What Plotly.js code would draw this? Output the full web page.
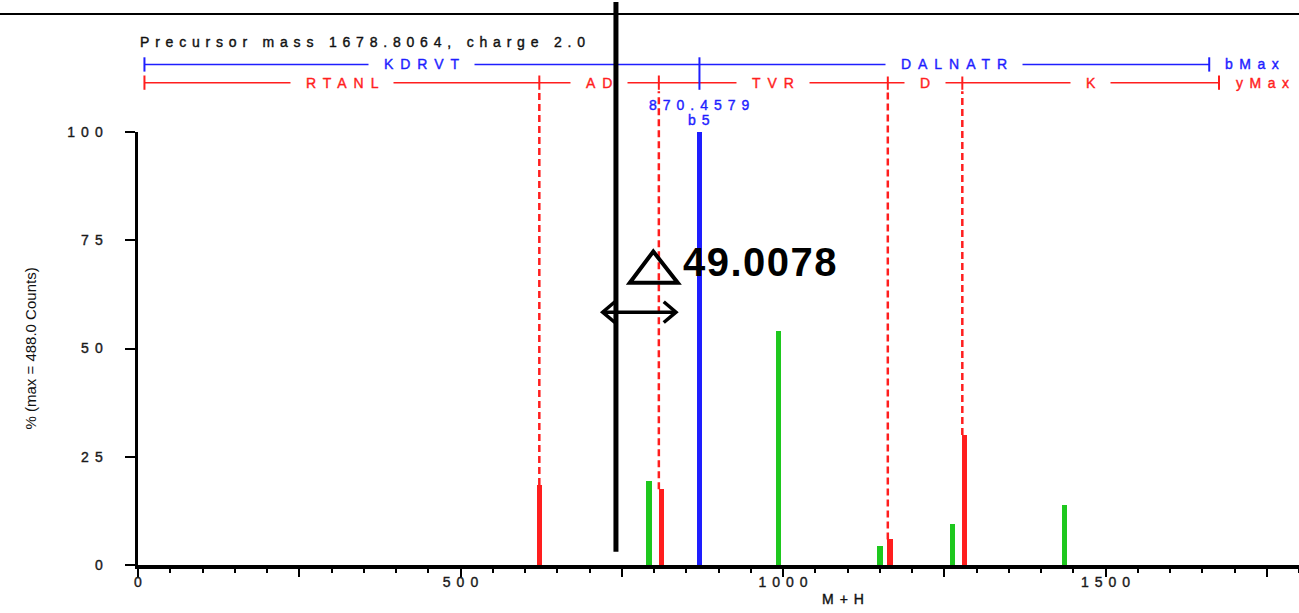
<!DOCTYPE html>
<html>
<head>
<meta charset="utf-8">
<script src="https://cdn.plot.ly/plotly-3.0.1.min.js"></script>
<style>
  html, body { margin: 0; padding: 0; background: #fff; }
  #chart { width: 1299px; height: 613px; }
</style>
</head>
<body>
<div id="chart"></div>
<script>
// Observed fragment peaks: M+H and relative intensity (% of 488.0 counts)
const yIonMz   = [622.2, 811.3, 1165.9, 1281.0];
const yIonPct  = [18.5, 17.5, 5.9, 30.0];
const bIonMz   = [870.4579];
const bIonPct  = [100];
const otherMz  = [792.2, 992.7, 1150.4, 1262.5, 1436.1];
const otherPct = [19.5, 54.1, 4.5, 9.5, 13.9];

// Sequence ladders (boundaries in M+H) and the residues between them
const bLadderMz  = [10, 870.4579, 1660.8];
const bLadderSeq = ['KDRVT', 'DALNATR'];
const yLadderMz  = [10, 622.2, 807.5, 1162.5, 1278.0, 1676.0];
const yLadderSeq = ['RTANL', 'AD', 'TVR', 'D', 'K'];
// ladder boundary index -> matched y-ion peak index
const yMatched = [[1, 0], [2, 1], [3, 2], [4, 3]];

const precursorText = 'Precursor mass 1678.8064, charge 2.0';
const bPeakLabel = '870.4579';
const bPeakIon = 'b5';

// Mass-gap marker and the measured difference
const gapStartMz = 741.0;
const gapArrowMz = [720.4, 834.1];
const gapValue = '49.0078';

// Axis ticks
const xTickVals = [0, 250, 500, 750, 1000, 1250, 1500, 1750];
const xTickText = ['0', '', '500', '', '1000', '', '1500', ''];
const yTickVals = [0, 25, 50, 75, 100];

const BLUE = '#1e1eff', RED = '#ff1e1e', GREEN = '#1ec81e', INK = '#1a1a1a';
const FONT = 'Liberation Sans, Arial, sans-serif';

// wide lettering (no spacing after the final glyph)
function spaced(t, px, color) {
  if (!t) return t;
  const stroke = color ? 'stroke:' + color + ';stroke-width:0.4px;' : '';
  if (t.length < 2) return '<span style="' + stroke + '">' + t + '</span>';
  return '<span style="' + stroke + 'letter-spacing:' + px + 'px">' + t.slice(0, -1) + '</span>' +
         '<span style="' + stroke + '">' + t.slice(-1) + '</span>';
}

const traces = [
  { type: 'bar', x: otherMz, y: otherPct, width: 8, marker: { color: GREEN, line: { width: 0 } }, hoverinfo: 'x+y' },
  { type: 'bar', x: yIonMz, y: yIonPct, width: 8.5, marker: { color: RED, line: { width: 0 } }, hoverinfo: 'x+y' },
  { type: 'bar', x: bIonMz, y: bIonPct, width: 8.5, marker: { color: BLUE, line: { width: 0 } }, hoverinfo: 'x+y' }
];

// rows of the ladders, in paper units above the plot
const bRow = 1.156, yRow = 1.114, tickHalf = 0.0165, dashTop = 1.094;

const shapes = [];
// dashed guides from matched y-ladder boundaries down to their peaks
yMatched.forEach(([li, pi]) => {
  shapes.push({ type: 'line', xref: 'x', yref: 'paper', x0: yLadderMz[li], x1: yLadderMz[li],
    y0: yIonPct[pi] / 100, y1: dashTop, line: { color: RED, width: 2.5, dash: '7px,4px' } });
});
// b ladder
shapes.push({ type: 'line', xref: 'x', yref: 'paper', x0: bLadderMz[0], x1: bLadderMz[bLadderMz.length - 1],
  y0: bRow, y1: bRow, line: { color: BLUE, width: 1.5 } });
// y ladder
shapes.push({ type: 'line', xref: 'x', yref: 'paper', x0: yLadderMz[0], x1: yLadderMz[yLadderMz.length - 1],
  y0: yRow, y1: yRow, line: { color: RED, width: 1.5 } });
yLadderMz.forEach(m => {
  shapes.push({ type: 'line', xref: 'x', yref: 'paper', x0: m, x1: m, y0: yRow - tickHalf, y1: yRow + tickHalf,
    line: { color: RED, width: 2 } });
});
bLadderMz.forEach((m, i) => {
  const inner = i > 0 && i < bLadderMz.length - 1;
  shapes.push({ type: 'line', xref: 'x', yref: 'paper', x0: m, x1: m,
    y0: inner ? yRow - tickHalf : bRow - tickHalf, y1: bRow + tickHalf, line: { color: BLUE, width: 2 } });
});
// top rule
shapes.push({ type: 'line', xref: 'paper', yref: 'paper', x0: -0.12, x1: 1.0, y0: 1.2725, y1: 1.2725,
  line: { color: '#000', width: 2 } });
// triangle (delta) symbol
shapes.push({ type: 'path', xref: 'x', yref: 'y',
  path: 'M762.5,65.2 L798.9,72.4 L836.8,65.2 Z', line: { color: '#000', width: 4 }, fillcolor: 'rgba(0,0,0,0)' });
// double-headed arrow
shapes.push({ type: 'line', xref: 'x', yref: 'y', x0: gapArrowMz[0], x1: gapArrowMz[1], y0: 58.4, y1: 58.4,
  line: { color: '#000', width: 3.5 } });
shapes.push({ type: 'path', xref: 'x', yref: 'y',
  path: 'M' + (gapArrowMz[0] + 19) + ',60.8 L' + gapArrowMz[0] + ',58.4 L' + (gapArrowMz[0] + 19) + ',56.0',
  line: { color: '#000', width: 3.5 } });
shapes.push({ type: 'path', xref: 'x', yref: 'y',
  path: 'M' + (gapArrowMz[1] - 19) + ',60.8 L' + gapArrowMz[1] + ',58.4 L' + (gapArrowMz[1] - 19) + ',56.0',
  line: { color: '#000', width: 3.5 } });

const annotations = [];
const small = (color) => ({ family: FONT, size: 14, color: color });

annotations.push({ xref: 'paper', yref: 'paper', x: 0, y: 1.208, xanchor: 'left', yanchor: 'middle',
  text: spaced(precursorText, 5.8, '#111'), showarrow: false, font: small('#111') });

function ladderLabels(mz, seq, row, color) {
  seq.forEach((s, i) => {
    annotations.push({ xref: 'x', yref: 'paper', x: (mz[i] + mz[i + 1]) / 2, y: row,
      xanchor: 'center', yanchor: 'middle', showarrow: false, bgcolor: '#fff', borderpad: 4,
      text: spaced('\u00a0' + s + '\u00a0', 7, color), font: small(color) });
  });
}
ladderLabels(bLadderMz, bLadderSeq, bRow, BLUE);
ladderLabels(yLadderMz, yLadderSeq, yRow, RED);

annotations.push({ xref: 'x', yref: 'paper', x: bLadderMz[bLadderMz.length - 1], xshift: 14, y: bRow,
  xanchor: 'left', yanchor: 'middle', showarrow: false, text: spaced('bMax', 6.5, BLUE), font: small(BLUE) });
annotations.push({ xref: 'x', yref: 'paper', x: yLadderMz[yLadderMz.length - 1], xshift: 15, y: yRow,
  xanchor: 'left', yanchor: 'middle', showarrow: false, text: spaced('yMax', 6.5, RED), font: small(RED) });

annotations.push({ xref: 'x', yref: 'paper', x: bIonMz[0], y: 1.0624, xanchor: 'center', yanchor: 'middle',
  showarrow: false, text: spaced(bPeakLabel, 6, BLUE), font: small(BLUE) });
annotations.push({ xref: 'x', yref: 'paper', x: bIonMz[0], y: 1.0277, xanchor: 'center', yanchor: 'middle',
  showarrow: false, text: spaced(bPeakIon, 6, BLUE), font: small(BLUE) });

// axis titles
annotations.push({ xref: 'paper', yref: 'paper', x: -0.093, y: 0.5, xanchor: 'center', yanchor: 'middle',
  textangle: -90, showarrow: false, text: '% (max = 488.0 Counts)', font: { family: FONT, size: 15, color: '#111' } });
annotations.push({ xref: 'paper', yref: 'paper', x: 0.607, y: -0.0785, xanchor: 'center', yanchor: 'middle',
  showarrow: false, text: spaced('M+H', 6, '#111'), font: small('#111') });

// measured gap value
annotations.push({ xref: 'x', yref: 'y', x: 841.9, y: 69.9, xanchor: 'left', yanchor: 'middle', showarrow: false,
  text: '<b>' + spaced(gapValue, 1.5) + '</b>', font: { family: FONT, size: 40, color: '#000' } });

// vertical marker for the gap start (drawn last so it sits on top)
annotations.push({ xref: 'x', yref: 'y', x: gapStartMz, y: 3.07, ax: 0, ay: -552, axref: 'pixel', ayref: 'pixel',
  showarrow: true, arrowhead: 0, arrowwidth: 5, arrowcolor: '#000', standoff: 0, startstandoff: 0,
  text: ' ', font: { size: 1 } });

const layout = {
  width: 1299, height: 613,
  margin: { l: 138, r: 0, t: 132, b: 48, pad: 0 },
  paper_bgcolor: '#fff', plot_bgcolor: '#fff',
  showlegend: false, barmode: 'overlay', bargap: 0,
  font: { family: FONT, color: INK },
  xaxis: {
    range: [0, 1800], fixedrange: true, showgrid: false, zeroline: false,
    showline: true, linecolor: '#000', linewidth: 3.5,
    tickmode: 'array', tickvals: xTickVals, ticktext: xTickText.map(t => spaced(t, 6, INK)),
    ticks: 'outside', ticklen: 8, tickwidth: 2, tickcolor: '#000',
    minor: { dtick: 50, tick0: 0, ticks: 'outside', ticklen: 4, tickwidth: 2, tickcolor: '#000', showgrid: false },
    tickfont: { family: FONT, size: 14, color: INK }, ticklabelstandoff: -6
  },
  yaxis: {
    range: [0, 100], fixedrange: true, showgrid: false, zeroline: false,
    showline: true, linecolor: '#000', linewidth: 3.5,
    tickmode: 'array', tickvals: yTickVals, ticktext: yTickVals.map(v => spaced(String(v), 6, INK)),
    ticks: 'outside', ticklen: 10, tickwidth: 2, tickcolor: '#000',
    tickfont: { family: FONT, size: 14, color: INK }, ticklabelstandoff: 19
  },
  shapes: shapes,
  annotations: annotations
};

Plotly.newPlot('chart', traces, layout, { displayModeBar: false, staticPlot: true });
</script>
</body>
</html>
